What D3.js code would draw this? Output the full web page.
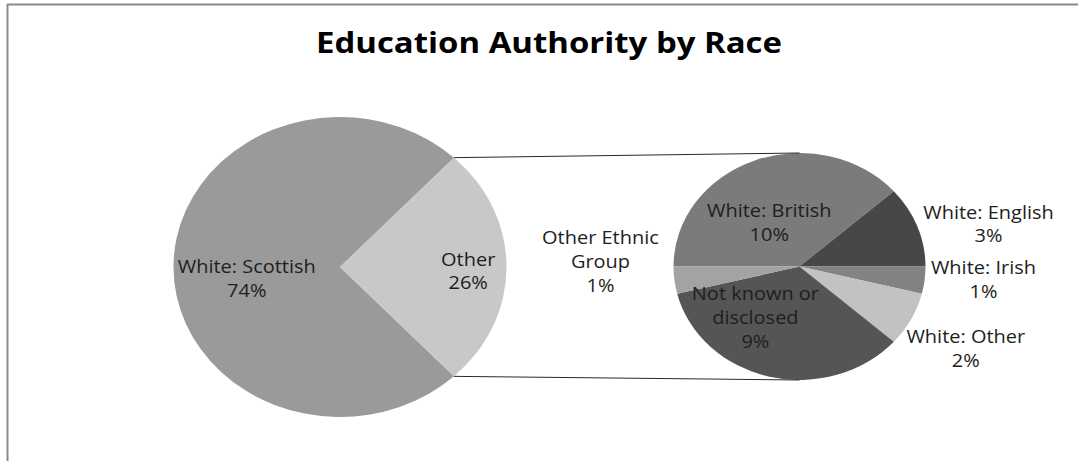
<!DOCTYPE html>
<html>
<head>
<meta charset="utf-8">
<script src="https://cdn.jsdelivr.net/npm/d3@7"></script>
<style>
  html, body { margin: 0; padding: 0; background: #fff; }
  svg { display: block; }
  text { font-family: "Open Sans", "Noto Sans", sans-serif; fill: #1e1e1e; }
</style>
</head>
<body>
<svg id="chart" width="1078" height="461"></svg>
<script>
// ---- data ----
const chartTitle = "Education Authority by Race";

const mainCategories = ["White: Scottish", "Other"];
const mainValues = [74, 26];

const subCategories = ["White: British", "White: English", "White: Irish",
  "White: Other", "Not known or disclosed", "Other Ethnic Group"];
const subValues = [10, 3, 1, 2, 9, 1];

// ---- layout ----
const W = 1078, H = 461;
const svg = d3.select("#chart");
const stretch = 1.11;           // horizontal squash of both pies (ellipses)
const main = { cx: 340, cy: 267, r: 150 };
const sub  = { cx: 799.5, cy: 266.5, r: 113.5 };
const lineGap = 24;

const mainColors = d3.scaleOrdinal().domain(mainCategories).range(["#9a9a9a", "#c8c8c8"]);
const subColors = d3.scaleOrdinal().domain(subCategories)
  .range(["#7b7b7b", "#474747", "#828282", "#c2c2c2", "#555555", "#a3a3a3"]);

// chart frame (top and left edges visible)
svg.append("line").attr("x1", 7).attr("x2", W).attr("y1", 4.5).attr("y2", 4.5)
  .attr("stroke", "#8a8a8a").attr("stroke-width", 2);
svg.append("line").attr("x1", 7.5).attr("x2", 7.5).attr("y1", 4).attr("y2", H)
  .attr("stroke", "#8a8a8a").attr("stroke-width", 2);

// title
svg.append("text")
  .attr("x", 549).attr("y", 53)
  .attr("text-anchor", "middle")
  .attr("font-size", 28).attr("font-weight", 700)
  .attr("textLength", 466).attr("lengthAdjust", "spacingAndGlyphs")
  .style("fill", "#000")
  .text(chartTitle);

// ---- main pie: "Other" slice centred on the right ----
const total = d3.sum(mainValues);
const otherSpan = mainValues[1] / total * 2 * Math.PI;
const mainStart = Math.PI / 2 + otherSpan / 2;
const mainPie = d3.pie().sort(null).startAngle(mainStart).endAngle(mainStart + 2 * Math.PI);
const mainArcs = mainPie(mainValues);
const mainArc = d3.arc().innerRadius(0).outerRadius(main.r);

const gMain = svg.append("g")
  .attr("transform", `translate(${main.cx},${main.cy}) scale(${stretch},1)`);
gMain.selectAll("path").data(mainArcs).join("path")
  .attr("d", mainArc)
  .attr("fill", (d, i) => mainColors(mainCategories[i]));

// ---- second pie: breakdown of "Other" ----
const subTotal = d3.sum(subValues);
const beforeIrish = (subValues[0] + subValues[1]) / subTotal * 2 * Math.PI;
const subStart = Math.PI / 2 - beforeIrish;
const subPie = d3.pie().sort(null).startAngle(subStart).endAngle(subStart + 2 * Math.PI);
const subArcs = subPie(subValues);
const subArc = d3.arc().innerRadius(0).outerRadius(sub.r);

const gSub = svg.append("g")
  .attr("transform", `translate(${sub.cx},${sub.cy}) scale(${stretch},1)`);
gSub.selectAll("path").data(subArcs).join("path")
  .attr("d", subArc)
  .attr("fill", (d, i) => subColors(subCategories[i]));

// ---- connector lines from the "Other" slice edges to the second pie ----
const otherArc = mainArcs[1];
function rim(c, a) {
  return [c.cx + stretch * c.r * Math.sin(a), c.cy - c.r * Math.cos(a)];
}
const pTop = rim(main, otherArc.startAngle);
const pBot = rim(main, otherArc.endAngle);
const connectors = [
  [pTop, [sub.cx, sub.cy - sub.r]],
  [pBot, [sub.cx, sub.cy + sub.r]]
];
svg.selectAll("line.connector").data(connectors).join("line")
  .attr("class", "connector")
  .attr("x1", d => d[0][0]).attr("y1", d => d[0][1])
  .attr("x2", d => d[1][0]).attr("y2", d => d[1][1])
  .attr("stroke", "#2a2a2a").attr("stroke-width", 1);

// ---- data labels ----
const pct = v => Math.round(v) + "%";
// label anchors relative to each pie centre, in units of that pie's radius
const mainLabelPos = [[-0.56, 0.08], [0.77, 0.03]];
const subLabelPos = [[-0.24, -0.38], [1.50, -0.37], [1.46, 0.12],
  [1.32, 0.73], [-0.35, 0.45], [-1.58, -0.04]];
const subLabelLines = [["White: British"], ["White: English"], ["White: Irish"],
  ["White: Other"], ["Not known or", "disclosed"], ["Other Ethnic", "Group"]];

function drawLabel(c, pos, lines) {
  const x = c.cx + pos[0] * c.r * stretch;
  const yMid = c.cy + pos[1] * c.r;
  const n = lines.length;
  const y0 = yMid - (n - 1) * lineGap / 2 + 6;
  const t = svg.append("text")
    .attr("text-anchor", "middle")
    .attr("font-size", 18)
    .attr("transform", `translate(${x},${y0}) scale(${stretch},1)`);
  lines.forEach((s, k) => {
    t.append("tspan").attr("x", 0).attr("y", k * lineGap).text(s);
  });
}

mainCategories.forEach((c, i) => {
  drawLabel(main, mainLabelPos[i], [c, pct(mainValues[i])]);
});
subCategories.forEach((c, i) => {
  drawLabel(sub, subLabelPos[i], subLabelLines[i].concat([pct(subValues[i])]));
});
</script>
</body>
</html>
